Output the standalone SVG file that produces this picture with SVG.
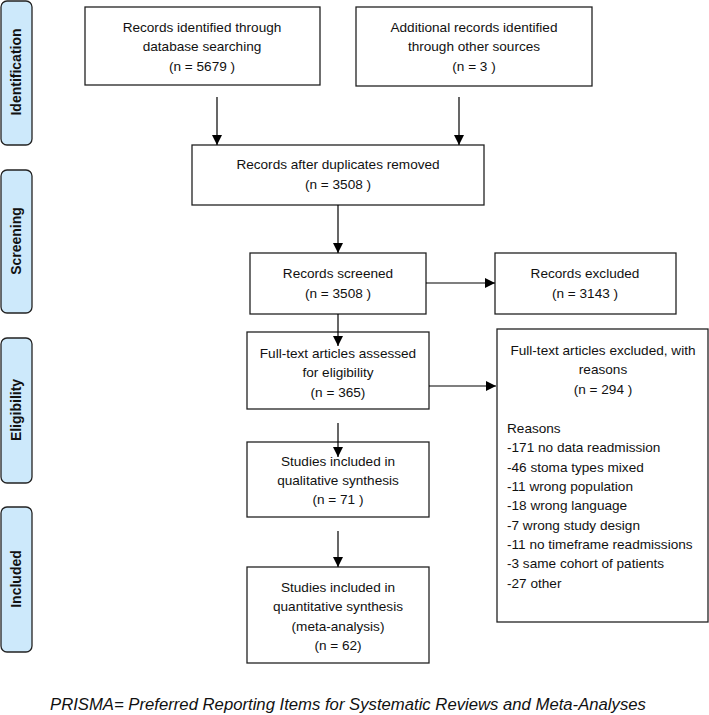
<svg xmlns="http://www.w3.org/2000/svg" width="709" height="715" viewBox="0 0 709 715">
<defs>
<marker id="ah" viewBox="0 0 10 10" refX="10" refY="5" markerWidth="10" markerHeight="10" markerUnits="userSpaceOnUse" orient="auto">
<path d="M0,0 L10,5 L0,10 z" fill="#000"/>
</marker>
<style>
.box{fill:#fff;stroke:#222;stroke-width:1.3}
.side{fill:#cde9fb;stroke:#222;stroke-width:1.3}
.t{font-family:"Liberation Sans",Arial,sans-serif;font-size:13.6px;fill:#111;text-anchor:middle}
.l{font-family:"Liberation Sans",Arial,sans-serif;font-size:13.6px;fill:#111}
.s{font-family:"Liberation Sans",Arial,sans-serif;font-size:14px;font-weight:bold;fill:#111;text-anchor:middle}
.c{stroke:#000;stroke-width:1.2;fill:none;marker-end:url(#ah)}
.f{font-family:"Liberation Sans",Arial,sans-serif;font-size:16.7px;font-style:italic;fill:#111}
</style>
</defs>
<rect width="709" height="715" fill="#fff"/>
<g id="side-identification"><rect class="side" x="1" y="1" width="31" height="144" rx="6"/><text class="s" transform="translate(21,72) rotate(-90)">Identification</text></g>
<g id="side-screening"><rect class="side" x="1" y="170" width="31" height="143" rx="6"/><text class="s" transform="translate(21,241) rotate(-90)">Screening</text></g>
<g id="side-eligibility"><rect class="side" x="1" y="338" width="31" height="145" rx="6"/><text class="s" transform="translate(21,410) rotate(-90)">Eligibility</text></g>
<g id="side-included"><rect class="side" x="1" y="507" width="31" height="145" rx="6"/><text class="s" transform="translate(21,579) rotate(-90)">Included</text></g>

<g id="n-database"><rect class="box" x="85" y="7" width="235" height="78"/>
<text class="t" x="202" y="32">Records identified through</text>
<text class="t" x="202" y="51">database searching</text>
<text class="t" x="202" y="71">(n =  5679 )</text></g>
<g id="n-other"><rect class="box" x="356" y="7" width="236" height="79"/>
<text class="t" x="474" y="32">Additional records identified</text>
<text class="t" x="474" y="51">through other sources</text>
<text class="t" x="474" y="71">(n =  3 )</text></g>
<g id="n-duplicates"><rect class="box" x="192" y="145" width="292" height="60"/>
<text class="t" x="338" y="169">Records after duplicates removed</text>
<text class="t" x="338" y="189">(n =  3508 )</text></g>
<g id="n-screened"><rect class="box" x="250" y="253" width="176" height="61"/>
<text class="t" x="338" y="278">Records screened</text>
<text class="t" x="338" y="298">(n = 3508 )</text></g>
<g id="n-excluded"><rect class="box" x="495" y="253" width="181" height="61"/>
<text class="t" x="585" y="278">Records excluded</text>
<text class="t" x="585" y="298">(n = 3143  )</text></g>
<g id="n-fulltext"><rect class="box" x="247" y="332" width="182" height="77"/>
<text class="t" x="338" y="358">Full-text articles assessed</text>
<text class="t" x="338" y="377">for eligibility</text>
<text class="t" x="338" y="397">(n = 365)</text></g>
<g id="n-fulltext-excluded"><rect class="box" x="497" y="329" width="211" height="293"/>
<text class="t" x="603" y="355">Full-text articles excluded, with</text>
<text class="t" x="603" y="374">reasons</text>
<text class="t" x="603" y="394">(n = 294  )</text>
<text class="l" x="507" y="433">Reasons</text>
<text class="l" x="507" y="452">-171 no data readmission</text>
<text class="l" x="507" y="472">-46 stoma types mixed</text>
<text class="l" x="507" y="491">-11 wrong population</text>
<text class="l" x="507" y="510">-18 wrong language</text>
<text class="l" x="507" y="530">-7 wrong study design</text>
<text class="l" x="507" y="549">-11 no timeframe readmissions</text>
<text class="l" x="507" y="568">-3 same cohort of patients</text>
<text class="l" x="507" y="588">-27 other</text></g>
<g id="n-qualitative"><rect class="box" x="247" y="442" width="182" height="75"/>
<text class="t" x="338" y="466">Studies included in</text>
<text class="t" x="338" y="485">qualitative synthesis</text>
<text class="t" x="338" y="504">(n =  71 )</text></g>
<g id="n-quantitative"><rect class="box" x="247" y="567" width="182" height="96"/>
<text class="t" x="338" y="592">Studies included in</text>
<text class="t" x="338" y="611">quantitative synthesis</text>
<text class="t" x="338" y="631">(meta-analysis)</text>
<text class="t" x="338" y="650">(n = 62)</text></g>

<g id="connectors">
<line class="c" x1="217" y1="97" x2="217" y2="145"/>
<line class="c" x1="459" y1="97" x2="459" y2="145"/>
<line class="c" x1="338" y1="205" x2="338" y2="253"/>
<line class="c" x1="426" y1="283" x2="495" y2="283"/>
<line class="c" x1="338" y1="314" x2="338" y2="346"/>
<line class="c" x1="429" y1="386" x2="496" y2="386"/>
<line class="c" x1="338" y1="423" x2="338" y2="457"/>
<line class="c" x1="338" y1="531" x2="338" y2="567"/>
</g>

<text class="f" x="50" y="710">PRISMA= Preferred Reporting Items for Systematic Reviews and Meta-Analyses</text>
</svg>
